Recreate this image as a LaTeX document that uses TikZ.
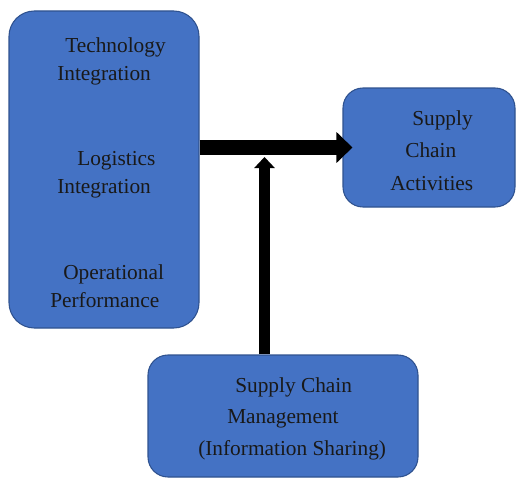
\documentclass[tikz,border=0pt]{standalone}
\usepackage{fontspec}
\setmainfont{Liberation Serif}
\usetikzlibrary{arrows.meta}
\definecolor{boxfill}{HTML}{4472C4}
\definecolor{boxline}{HTML}{2F528F}
\tikzset{
  panel/.style={draw=boxline, line width=0.8pt, fill=boxfill, rectangle, inner sep=0pt},
  label/.style={anchor=base west, inner sep=0pt, font=\fontsize{16}{19}\selectfont, text=black!90},
  fatarrow/.style={line width=11.25pt, -{Triangle[length=12pt, width=22.5pt]}},
  slimarrow/.style={line width=8.25pt, -{Triangle[length=8.25pt, width=15pt]}}
}
\begin{document}
\begin{tikzpicture}[x=0.75pt, y=-0.75pt]
  \useasboundingbox (0,0) rectangle (516,478);

  % the three blocks
  \node[panel, rounded corners=19pt, minimum width=142.5pt, minimum height=237.75pt] (left) at (104,169.5) {};
  \node[panel, rounded corners=15pt, minimum width=129pt, minimum height=89.25pt] (right) at (429,147.5) {};
  \node[panel, rounded corners=15pt, minimum width=202.5pt, minimum height=91.5pt] (bottom) at (283,416) {};

  % left block labels
  \node[label] (t1) at (65,52) {Technology};
  \node[label] (t2) at (57,80) {Integration};
  \node[label] (l1) at (77,165) {Logistics};
  \node[label] (l2) at (57,193) {Integration};
  \node[label] (o1) at (63,279) {Operational};
  \node[label] (o2) at (50,307) {Performance};

  % right block labels
  \node[label] (s1) at (412,125) {Supply};
  \node[label] (s2) at (405,157) {Chain};
  \node[label] (s3) at (390,190) {Activities};

  % bottom block labels
  \node[label] (m1) at (235,392) {Supply Chain};
  \node[label] (m2) at (227,423) {Management};
  \node[label] (m3) at (198,455) {(Information Sharing)};

  % connectors
  \coordinate (meet) at (264.5,157);
  \draw[fatarrow] (left.east |- right.west) -- ([xshift=7.5pt]right.west);
  \draw[slimarrow] (bottom.north -| meet) -- (meet);
\end{tikzpicture}
\end{document}
